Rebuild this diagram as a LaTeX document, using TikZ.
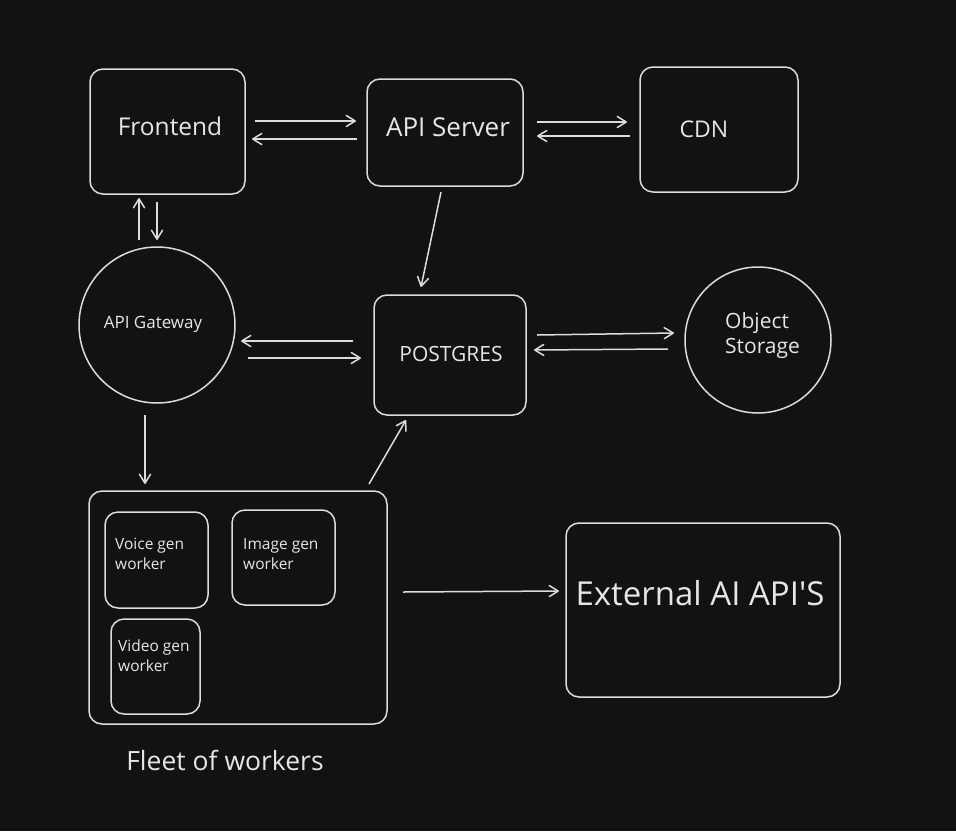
\documentclass[tikz,border=0pt]{standalone}
\usepackage{fontspec}
\setmainfont{Open Sans}
\usetikzlibrary{arrows.meta,calc}
\definecolor{bg}{HTML}{121212}
\definecolor{ink}{HTML}{DCDCDC}
\definecolor{txt}{HTML}{E6E6E6}
\tikzset{
  box/.style={draw=ink, line width=1.5pt, rounded corners=13pt, inner sep=0pt, outer sep=0pt, rectangle},
  circ/.style={draw=ink, line width=1.5pt, circle, inner sep=0pt, outer sep=0pt},
  lbl/.style={text=txt, inner sep=0pt, font=\fontsize{#1}{#1}\selectfont},
  mlbl/.style 2 args={text=txt, inner sep=0pt, align=left, anchor=north west, font=\fontsize{#1}{#2}\selectfont},
  arr/.style={draw=ink, line width=1.5pt, -{Straight Barb[length=9pt,width=11pt,line join=round,line cap=round]}}
}
\begin{document}
\begin{tikzpicture}[x=1pt,y=-1pt]
\fill[bg] (0,0) rectangle (956,831);
\useasboundingbox (0,0) rectangle (956,831);

% boxes
\node[box, minimum width=155pt, minimum height=125pt] (fe) at (167.5,131.5) {};
\node[box, minimum width=156pt, minimum height=107pt] (api) at (445,132.5) {};
\node[box, minimum width=158pt, minimum height=125pt] (cdn) at (719,129.5) {};
\node[circ, minimum size=156pt] (gw) at (157,325) {};
\node[box, minimum width=152pt, minimum height=120pt] (pg) at (450,355) {};
\node[circ, minimum size=146pt] (os) at (758,340) {};
\node[box, minimum width=298pt, minimum height=233pt] (fleet) at (238,607.5) {};
\node[box, minimum width=103pt, minimum height=96pt] (voice) at (156.5,560) {};
\node[box, minimum width=103pt, minimum height=95pt] (image) at (283.5,557.5) {};
\node[box, minimum width=89pt, minimum height=95pt] (video) at (155.5,666.5) {};
\node[box, minimum width=274pt, minimum height=174pt] (ext) at (703,610) {};

% labels
\node[lbl=24.5] (feT) at (170,126) {Frontend};
\node[lbl=26] (apiT) at (448,127) {API Server};
\node[lbl=23] (cdnT) at (704,129) {CDN};
\node[lbl=17] (gwT) at (153,324) {API Gateway};
\node[lbl=21] (pgT) at (451,354) {POSTGRES};
\node[mlbl={21}{25}] (osT) at (725,312) {Object\\Storage};
\node[mlbl={15.5}{20}] (voiceT) at (115,538) {Voice gen\\worker};
\node[mlbl={15.5}{20}] (imageT) at (243,538) {Image gen\\worker};
\node[mlbl={15.5}{20}] (videoT) at (118,640) {Video gen\\worker};
\node[lbl=26.5] (fleetT) at (225,760) {Fleet of workers};
\node[lbl=33] (extT) at (700,593) {External AI API\textquotesingle S};

% connectors
\draw[arr] ($(fe.east)+(10,-10.5)$) -- ($(api.west)+(-11,-11.5)$);
\draw[arr] ($(api.west)+(-10,6.5)$) -- ($(fe.east)+(7,7.5)$);
\draw[arr] ($(api.east)+(14,-10.5)$) -- ($(cdn.west)+(-13,-7.5)$);
\draw[arr] ($(cdn.west)+(-10,6.5)$) -- ($(api.east)+(14,3.5)$);
\draw[arr] ($(gw.north)+(-18,-7)$) -- ($(fe.south)+(-28.5,4)$);
\draw[arr] ($(fe.south)+(-10.5,8)$) -- ($(gw.north)+(0,-7)$);
\draw[arr] ($(api.south)+(-4,6)$) -- ($(pg.north)+(-29,-8)$);
\draw[arr] ($(pg.west)+(-21,-14)$) -- ($(gw.east)+(6,16)$);
\draw[arr] ($(gw.east)+(13,33)$) -- ($(pg.west)+(-13,3)$);
\draw[arr] ($(pg.east)+(11,-20)$) -- ($(os.west)+(-11,-7)$);
\draw[arr] ($(os.west)+(-17,9)$) -- ($(pg.east)+(8,-5)$);
\draw[arr] ($(gw.south)+(-12,12)$) -- ($(fleet.north)+(-93,-7)$);
\draw[arr] ($(fleet.north)+(131,-7)$) -- ($(pg.south)+(-44,5)$);
\draw[arr] ($(fleet.east)+(16,-15.5)$) -- ($(ext.west)+(-7,-19)$);
\end{tikzpicture}
\end{document}
